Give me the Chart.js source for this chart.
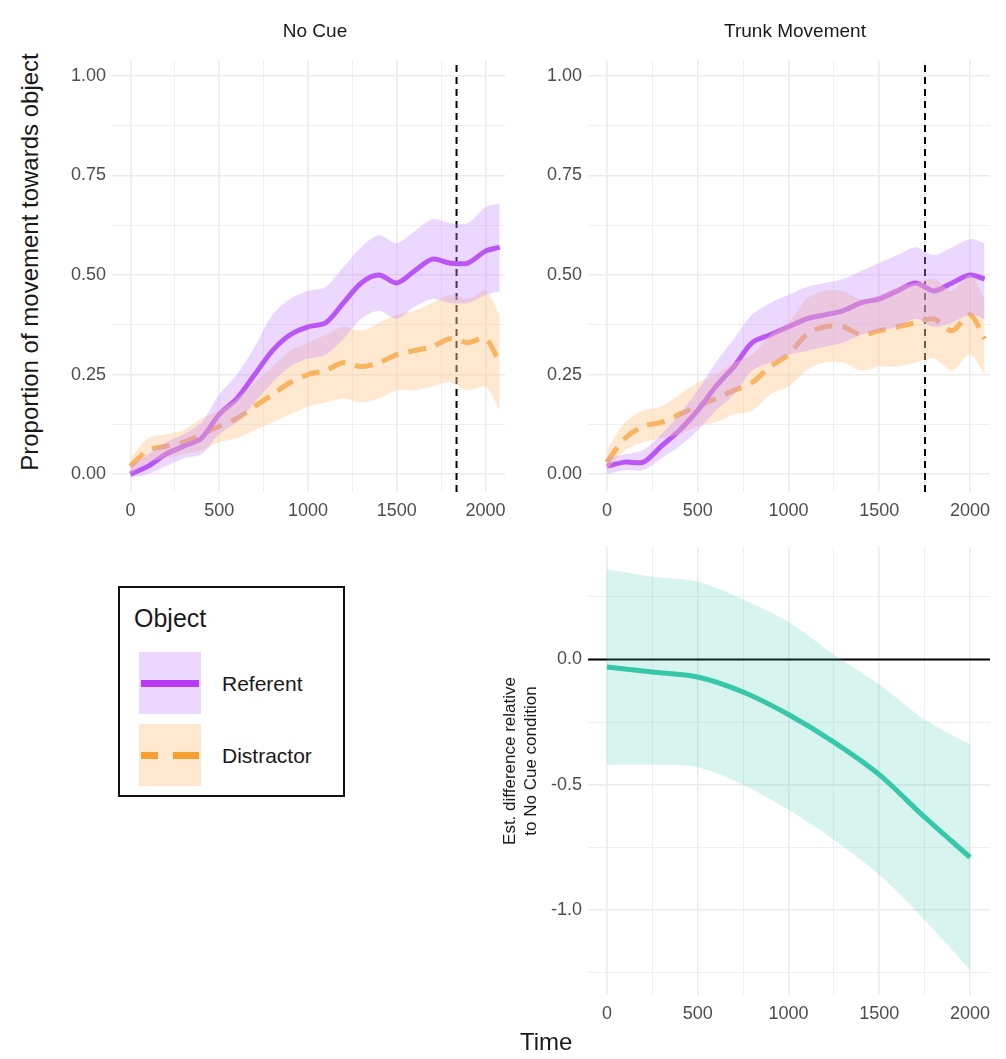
<!DOCTYPE html>
<html><head><meta charset="utf-8">
<script src="https://cdn.jsdelivr.net/npm/chart.js@4"></script>
<style>
body{margin:0;background:#fff;font-family:"Liberation Sans",Arial,sans-serif;width:1006px;height:1059px;position:relative;overflow:hidden}
canvas{position:absolute}
.t{position:absolute;color:#1a1a1a}
</style></head><body>
<canvas id="c1" style="left:60px;top:0;width:455px;height:545px" width="455" height="545"></canvas>
<canvas id="c2" style="left:536px;top:0;width:470px;height:545px" width="470" height="545"></canvas>
<canvas id="c3" style="left:536px;top:530px;width:470px;height:529px" width="470" height="529"></canvas>
<div class="t" style="left:130px;top:20px;width:370px;text-align:center;font-size:19px">No Cue</div>
<div class="t" style="left:600px;top:20px;width:390px;text-align:center;font-size:19px">Trunk Movement</div>
<div class="t" style="left:-190px;top:248px;width:440px;text-align:center;font-size:24px;transform:rotate(-90deg)">Proportion of movement towards object</div>
<div class="t" style="left:380px;top:740px;width:280px;text-align:center;font-size:17px;line-height:21px;transform:rotate(-90deg)">Est. difference relative<br>to No Cue condition</div>
<div class="t" style="left:520px;top:1028px;font-size:24px">Time</div>
<div style="position:absolute;left:118px;top:586px;width:227px;height:211px;border:2px solid #111;box-sizing:border-box">
 <div class="t" style="left:14px;top:16px;font-size:25px">Object</div>
 <div style="position:absolute;left:19px;top:64px;width:62px;height:62px;background:rgba(200,140,255,0.35)"><div style="position:absolute;left:2px;right:2px;top:28px;height:7px;background:#b83af5"></div></div>
 <div class="t" style="left:102px;top:84px;font-size:21px">Referent</div>
 <div style="position:absolute;left:19px;top:136px;width:62px;height:62px;background:rgba(252,205,150,0.45)"><div style="position:absolute;left:2px;top:28px;width:17px;height:7px;background:#f5a033"></div><div style="position:absolute;left:34px;top:28px;width:26px;height:7px;background:#f5a033"></div></div>
 <div class="t" style="left:102px;top:156px;font-size:21px">Distractor</div>
</div>
<script>
const times=[0,100,200,300,400,500,600,700,800,900,1000,1100,1200,1300,1400,1500,1600,1700,1800,1900,2000,2080];
const ncRef=[0.0,0.02,0.05,0.07,0.09,0.15,0.19,0.25,0.31,0.35,0.37,0.38,0.43,0.48,0.50,0.48,0.51,0.54,0.53,0.53,0.56,0.57];
const ncRefLo=[-0.01,0.0,0.02,0.04,0.05,0.10,0.13,0.18,0.23,0.27,0.29,0.30,0.34,0.39,0.41,0.39,0.42,0.44,0.43,0.43,0.45,0.46];
const ncRefHi=[0.02,0.05,0.08,0.10,0.13,0.20,0.25,0.32,0.40,0.44,0.46,0.47,0.52,0.57,0.60,0.58,0.61,0.64,0.63,0.63,0.67,0.68];
const ncDis=[0.02,0.06,0.07,0.08,0.10,0.12,0.14,0.17,0.20,0.23,0.25,0.26,0.28,0.27,0.28,0.30,0.31,0.32,0.34,0.33,0.34,0.28];
const ncDisLo=[0.0,0.03,0.04,0.05,0.06,0.08,0.09,0.11,0.13,0.15,0.17,0.18,0.19,0.18,0.19,0.21,0.21,0.22,0.23,0.21,0.22,0.16];
const ncDisHi=[0.04,0.09,0.10,0.11,0.14,0.16,0.19,0.23,0.27,0.31,0.33,0.35,0.37,0.36,0.38,0.40,0.41,0.43,0.45,0.44,0.46,0.40];
const tmRef=[0.02,0.03,0.03,0.07,0.11,0.16,0.22,0.27,0.33,0.35,0.37,0.39,0.40,0.41,0.43,0.44,0.46,0.48,0.46,0.48,0.50,0.49];
const tmRefLo=[0.0,0.01,0.01,0.04,0.07,0.11,0.16,0.20,0.26,0.28,0.30,0.31,0.32,0.33,0.35,0.36,0.37,0.39,0.37,0.38,0.40,0.39];
const tmRefHi=[0.04,0.05,0.06,0.10,0.15,0.21,0.28,0.34,0.40,0.43,0.45,0.47,0.48,0.49,0.51,0.53,0.55,0.57,0.55,0.57,0.59,0.58];
const tmDis=[0.03,0.09,0.12,0.13,0.15,0.17,0.19,0.21,0.23,0.27,0.30,0.35,0.37,0.37,0.35,0.36,0.37,0.38,0.39,0.36,0.40,0.34];
const tmDisLo=[0.01,0.06,0.08,0.09,0.10,0.12,0.13,0.15,0.16,0.20,0.22,0.26,0.28,0.28,0.26,0.27,0.27,0.28,0.29,0.26,0.30,0.25];
const tmDisHi=[0.06,0.13,0.16,0.17,0.20,0.23,0.25,0.28,0.30,0.35,0.38,0.44,0.46,0.46,0.44,0.45,0.47,0.48,0.49,0.46,0.50,0.44];
const cutNC=1837, cutTM=1752;
const dTimes=[0,250,500,750,1000,1250,1500,1750,2000];
const diff=[-0.03,-0.05,-0.07,-0.13,-0.22,-0.33,-0.46,-0.63,-0.79];
const diffHi=[0.36,0.33,0.31,0.24,0.15,0.02,-0.10,-0.24,-0.34];
const diffLo=[-0.42,-0.42,-0.43,-0.50,-0.60,-0.72,-0.86,-1.04,-1.24];

const pts=(xs,ys)=>xs.map((x,i)=>({x,y:ys[i]}));
const tickFont={size:18,family:"Liberation Sans"};
const isMaj=(v,m)=>Math.abs(v/m-Math.round(v/m))<1e-6;
function gridTicks(min,max,step){return s=>{const t=[];for(let v=Math.ceil(min/step-1e-9)*step;v<=max+1e-9;v+=step)t.push({value:+v.toFixed(4)});s.ticks=t;};}
function xScale(h){return {type:'linear',min:-104,max:2110,afterFit:s=>{s.height=h},afterBuildTicks:gridTicks(-104,2110,250),
 ticks:{color:'#4d4d4d',font:tickFont,autoSkip:false,maxRotation:0,padding:8,callback:v=>isMaj(v,500)?v:''},
 grid:{color:'#ebebeb',lineWidth:c=>c.tick&&isMaj(c.tick.value,500)?1.6:0.8,drawTicks:false},border:{display:false}};}
function yScale(min,max,step,major,fmt){return {min,max,afterFit:s=>{s.width=52},afterBuildTicks:gridTicks(min,max,step),
 ticks:{color:'#4d4d4d',font:tickFont,padding:6,autoSkip:false,callback:v=>isMaj(v,major)?fmt(v):''},
 grid:{color:'#ebebeb',lineWidth:c=>c.tick&&isMaj(c.tick.value,major)?1.6:0.8,drawTicks:false},border:{display:false}};}
function band(lo,hi,xs,col){return [
 {data:pts(xs,hi),borderWidth:0,pointRadius:0,fill:'+1',backgroundColor:col,tension:0.3},
 {data:pts(xs,lo),borderWidth:0,pointRadius:0,fill:false,tension:0.3}];}
function line(xs,ys,col,dash,w){return {data:pts(xs,ys),borderColor:col,borderWidth:w||5,pointRadius:0,fill:false,borderDash:dash||[],tension:0.3};}
function topChart(id,ref,rl,rh,dis,dl,dh,cut,pl){
 new Chart(document.getElementById(id),{type:'line',data:{datasets:[
  ...band(rl,rh,times,'rgba(200,140,255,0.35)'),
  ...band(dl,dh,times,'rgba(252,205,150,0.45)'),
  line(times,ref,'#b23af2'),
  line(times,dis,'#f5a033',[18,10]),
  {data:[{x:cut,y:-0.045},{x:cut,y:1.04}],borderColor:'#000',borderWidth:2,borderDash:[7,5],pointRadius:0,fill:false}
 ]},options:{responsive:false,animation:false,layout:{padding:{top:60,right:pl,left:0,bottom:0}},
  plugins:{legend:{display:false},tooltip:{enabled:false}},
  scales:{x:xScale(53),y:yScale(-0.045,1.04,0.125,0.25,v=>v.toFixed(2))}}});}
topChart('c1',ncRef,ncRefLo,ncRefHi,ncDis,ncDisLo,ncDisHi,cutNC,10);
topChart('c2',tmRef,tmRefLo,tmRefHi,tmDis,tmDisLo,tmDisHi,cutTM,16);
new Chart(document.getElementById('c3'),{type:'line',data:{datasets:[
 ...band(diffLo,diffHi,dTimes,'rgba(60,200,170,0.2)'),
 {data:[{x:-104,y:0},{x:2110,y:0}],borderColor:'#000',borderWidth:2,pointRadius:0,fill:false},
 line(dTimes,diff,'#36c8ad',null,5)
]},options:{responsive:false,animation:false,layout:{padding:{top:15,right:16,left:0,bottom:0}},
 plugins:{legend:{display:false},tooltip:{enabled:false}},
 scales:{x:xScale(64),y:yScale(-1.34,0.45,0.25,0.5,v=>v.toFixed(1))}}});
</script></body></html>
